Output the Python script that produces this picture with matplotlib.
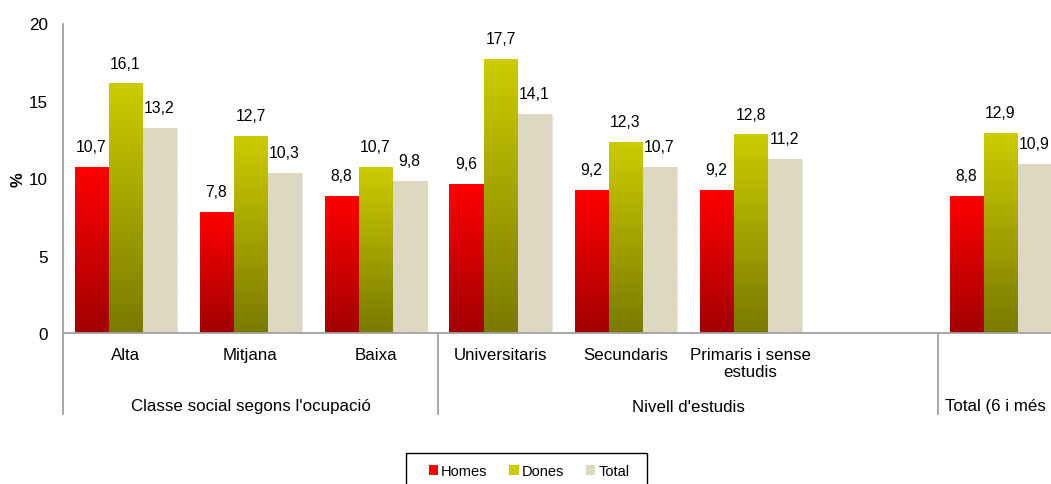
import numpy as np
import matplotlib
matplotlib.use("Agg")
import matplotlib.pyplot as plt
from matplotlib.colors import LinearSegmentedColormap
from matplotlib.patches import Patch, Rectangle
from matplotlib.transforms import blended_transform_factory

plt.rcParams["font.family"] = ["Liberation Sans", "DejaVu Sans"]

CATEGORIES = ["Alta", "Mitjana", "Baixa", "Universitaris", "Secundaris",
              "Primaris i sense\nestudis", "", ""]
# last group label is cut by the right edge of the picture
GROUPS = ["Classe social segons l'ocupació", "Nivell d'estudis", "Total (6 i més"]
GROUP_SIZES = [3, 4, 1]
SERIES = ["Homes", "Dones", "Total"]
HOMES = [10.7, 7.8, 8.8, 9.6, 9.2, 9.2, np.nan, 8.8]
DONES = [16.1, 12.7, 10.7, 17.7, 12.3, 12.8, np.nan, 12.9]
TOTAL = [13.2, 10.3, 9.8, 14.1, 10.7, 11.2, np.nan, 10.9]

# (top colour, bottom colour) per series
GRADS = [("#FF0000", "#A20000"), ("#CCCC00", "#7A7A00"), ("#DDD8C2", "#DDD8C2")]
SPINE = "#A0A0A0"

fig = plt.figure(figsize=(10.51, 4.85), dpi=100)
W, H = 1051, 485
AH = 309.5
ax = fig.add_axes([63 / W, (H - 334) / H, 1000 / W, AH / H])

x = np.arange(len(CATEGORIES))
bw = 0.272
grad = np.linspace(1, 0, 256).reshape(-1, 1)
for k, (vals, (top, bot)) in enumerate(zip([HOMES, DONES, TOTAL], GRADS)):
    bars = ax.bar(x + (k - 1) * bw, vals, bw, color="none", edgecolor="none", zorder=2)
    cmap = LinearSegmentedColormap.from_list(f"g{k}", [bot, top])
    for r, v in zip(bars, vals):
        if np.isnan(v):
            continue
        x0, w, h = r.get_x(), r.get_width(), r.get_height()
        if k == 2:
            # faint shadow on the right of the pale bars
            ax.bar(x0 + w / 2 + 0.012, h, w, color="#E6E6E6", zorder=1.5)
        ax.imshow(grad, extent=[x0, x0 + w, 0, h], aspect="auto", cmap=cmap,
                  vmin=0, vmax=1, zorder=2, interpolation="bilinear")
        ax.annotate(f"{v:.1f}".replace(".", ","), (x0 + w / 2, h),
                    xytext=(0, 15), textcoords="offset points",
                    ha="center", va="center", fontsize=11.3)

ax.set_xlim(-0.5, len(CATEGORIES) - 0.5)
ax.set_ylim(0, 20)
ax.set_yticks([0, 5, 10, 15, 20])
ax.tick_params(axis="y", length=0, pad=11, labelsize=12.3)
ax.set_xticks([])
for s in ["top", "right"]:
    ax.spines[s].set_visible(False)
for s in ["left", "bottom"]:
    ax.spines[s].set_color(SPINE)
    ax.spines[s].set_linewidth(1.3)
ax.set_ylabel("%", fontsize=12, fontweight="bold")
ax.yaxis.set_label_coords(-37 / 1000, 0.5)

tr = blended_transform_factory(ax.transData, ax.transAxes)
y_low = -81 / AH
for c, lab in zip(x, CATEGORIES):
    ax.text(c, -14 / AH, lab, transform=tr, ha="center", va="top",
            fontsize=12.2, linespacing=1.15)

edges = np.concatenate([[0], np.cumsum(GROUP_SIZES)]) - 0.5
for e in edges[:-1]:
    ax.plot([e, e], [0, y_low], transform=tr, color=SPINE, lw=1.3, clip_on=False)
for g, lab in enumerate(GROUPS):
    lo, hi = edges[g], edges[g + 1]
    if g == len(GROUPS) - 1:
        ax.text(lo + 0.055, -73 / AH, lab, transform=tr, ha="left",
                va="center", fontsize=12.2)
    else:
        ax.text((lo + hi) / 2, -73 / AH, lab, transform=tr, ha="center",
                va="center", fontsize=12.2)

# legend box (runs off the bottom edge like the original)
fig.patches.append(Rectangle((406 / W, -0.05), 241 / W, 0.05 + (H - 454) / H,
                             transform=fig.transFigure, fill=False,
                             edgecolor="black", lw=1.0))
handles = [Patch(facecolor=t, edgecolor="none") for t, _ in GRADS]
fig.legend(handles, SERIES, loc="center", bbox_to_anchor=(529 / W, 1 - 472 / H),
           ncol=3, fontsize=10.5, frameon=False, borderaxespad=0, borderpad=0,
           handlelength=0.65, handleheight=0.65, handletextpad=0.2,
           columnspacing=1.5)

fig.savefig("out.png", dpi=100, facecolor="white")
